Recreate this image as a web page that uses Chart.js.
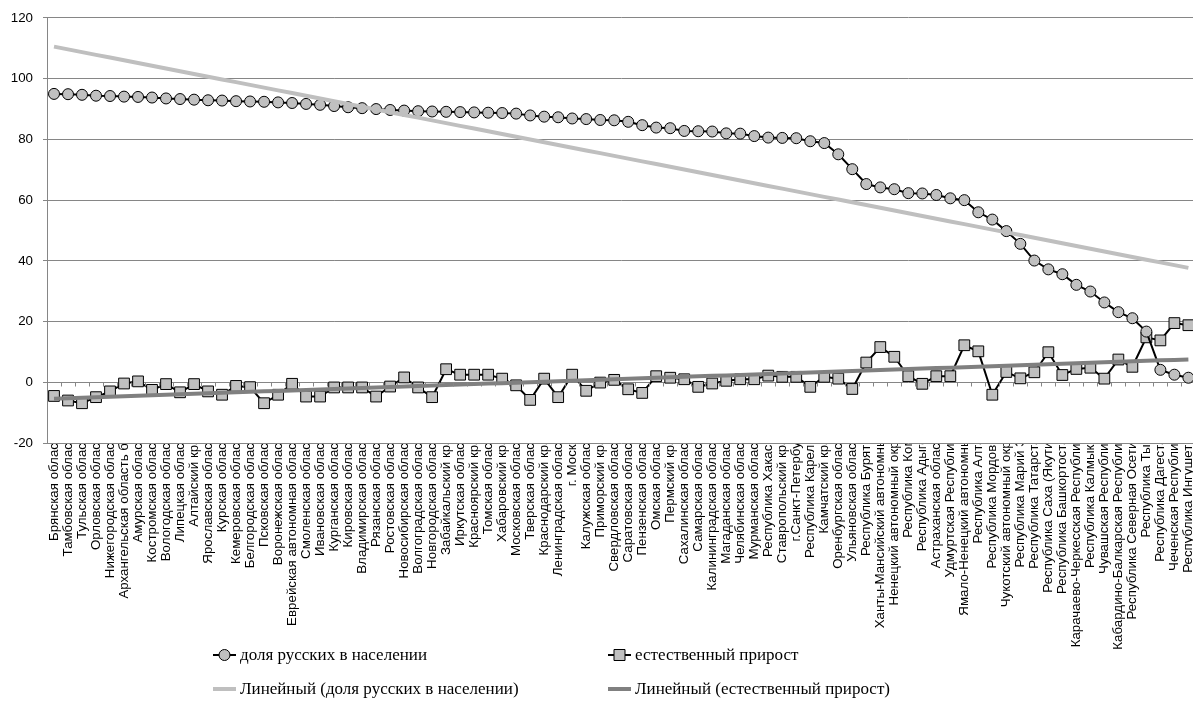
<!DOCTYPE html>
<html><head><meta charset="utf-8">
<script src="https://cdn.jsdelivr.net/npm/chart.js@4.4.1/dist/chart.umd.min.js"></script>
<style>html,body{margin:0;padding:0;background:#fff;overflow:hidden}#wrap{width:1193px;height:724px;position:relative;overflow:hidden}</style>
</head><body><div id="wrap"><canvas id="c" width="1204" height="724"></canvas></div>
<script>
const categories = [
"Брянская область","Тамбовская область","Тульская область","Орловская область","Нижегородская область",
"Архангельская область без","Амурская область","Костромская область","Вологодская область","Липецкая область",
"Алтайский край","Ярославская область","Курская область","Кемеровская область","Белгородская область",
"Псковская область","Воронежская область","Еврейская автономная область","Смоленская область","Ивановская область",
"Курганская область","Кировская область","Владимирская область","Рязанская область","Ростовская область",
"Новосибирская область","Волгоградская область","Новгородская область","Забайкальский край","Иркутская область",
"Красноярский край","Томская область","Хабаровский край","Московская область","Тверская область",
"Краснодарский край","Ленинградская область","г. Москва","Калужская область","Приморский край",
"Свердловская область","Саратовская область","Пензенская область","Омская область","Пермский край",
"Сахалинская область","Самарская область","Калининградская область","Магаданская область","Челябинская область",
"Мурманская область","Республика Хакасия","Ставропольский край","г.Санкт-Петербург","Республика Карелия",
"Камчатский край","Оренбургская область","Ульяновская область","Республика Бурятия","Ханты-Мансийский автономный",
"Ненецкий автономный округ","Республика Коми","Республика Адыгея","Астраханская область","Удмуртская Республика",
"Ямало-Ненецкий автономный","Республика Алтай","Республика Мордовия","Чукотский автономный округ","Республика Марий Эл",
"Республика Татарстан","Республика Саха (Якутия)","Республика Башкортостан","Карачаево-Черкесская Республика","Республика Калмыкия",
"Чувашская Республика","Кабардино-Балкарская Республика","Республика Северная Осетия-","Республика Тыва","Республика Дагестан",
"Чеченская Республика","Республика Ингушетия"
];
const shareRussians = [
95.0,94.9,94.7,94.4,94.3,94.1,94.0,93.8,93.5,93.3,
93.1,92.9,92.8,92.6,92.5,92.4,92.2,92.0,91.7,91.4,
91.0,90.6,90.3,90.0,89.7,89.5,89.3,89.2,89.1,89.0,
88.9,88.8,88.7,88.5,87.9,87.5,87.3,86.9,86.7,86.4,
86.3,85.8,84.7,83.9,83.7,82.8,82.7,82.6,82.0,81.9,
81.1,80.6,80.5,80.4,79.4,78.8,75.1,70.2,65.3,64.2,
63.6,62.3,62.2,61.7,60.6,60.0,56.0,53.6,49.8,45.6,
40.1,37.2,35.6,32.1,29.9,26.3,23.1,21.1,16.7,4.1,
2.5,1.5
];
const naturalGrowth = [
-4.5,-6.0,-6.9,-4.9,-3.0,-0.4,0.3,-2.5,-0.6,-3.3,
-0.6,-3.0,-4.1,-1.2,-1.6,-6.9,-4.1,-0.5,-4.7,-4.7,
-1.7,-1.7,-1.7,-4.7,-1.4,1.6,-1.7,-4.9,4.3,2.5,
2.5,2.5,1.2,-1.0,-5.8,1.2,-4.9,2.5,-2.8,-0.1,
0.8,-2.3,-3.5,2.0,1.5,1.0,-1.5,-0.4,0.5,1.0,
1.0,2.2,1.8,1.8,-1.5,1.8,1.2,-2.2,6.5,11.6,
8.4,2.0,-0.5,2.0,2.0,12.2,10.2,-4.1,3.4,1.3,
3.3,9.9,2.4,4.4,4.8,1.2,7.5,5.1,14.8,13.8,
19.5,18.8
];
const yTicks = [-20,0,20,40,60,80,100,120];
const seriesNames = ["доля русских в населении","естественный прирост"];
const trendNames = ["Линейный (доля русских в населении)","Линейный (естественный прирост)"];

function linearTrend(vals){
  const n = vals.length; let sx=0,sy=0,sxx=0,sxy=0;
  for(let i=0;i<n;i++){const x=i+1;sx+=x;sy+=vals[i];sxx+=x*x;sxy+=x*vals[i];}
  const b=(n*sxy-sx*sy)/(n*sxx-sx*sx); const a=(sy-b*sx)/n;
  return vals.map((v,i)=>a+b*(i+1));
}

const xFont = {family:"'Liberation Sans', Arial, sans-serif", size:13.33};
const yFont = {family:"'Liberation Sans', Arial, sans-serif", size:13.33};

const clipLabels = {
  id:'clipLabels',
  afterLayout(chart){
    const xs = chart.scales.x;
    if(!xs._clipPatched){
      const orig = xs.drawLabels.bind(xs);
      xs.drawLabels = function(area){
        const ctx = chart.ctx; ctx.save(); ctx.beginPath();
        ctx.rect(0, chart.chartArea.bottom + 1, chart.width, chart.height); ctx.clip();
        orig(area); ctx.restore();
      };
      xs._clipPatched = true;
    }
  }
};

const axisTicks = {
  id:'axisTicks',
  afterDatasetsDraw(chart){
    const ctx=chart.ctx, xs=chart.scales.x, ys=chart.scales.y;
    const y0=Math.round(ys.getPixelForValue(0))+0.5;
    const n=categories.length;
    const step=(xs.getPixelForValue(1)-xs.getPixelForValue(0));
    ctx.save(); ctx.strokeStyle='#868686'; ctx.lineWidth=1; ctx.beginPath();
    for(let k=0;k<=n;k++){const x=Math.round(xs.getPixelForValue(0)-step/2+k*step)+0.5; ctx.moveTo(x,y0); ctx.lineTo(x,y0+4);}
    ctx.stroke(); ctx.restore();
  }
};

const legendPlugin = {
  id:'customLegend',
  afterDraw(chart){
    const ctx=chart.ctx; const ds=chart.data.datasets;
    const items=[
      {d:ds[2], x:213, y:655, marker:'circle'},
      {d:ds[3], x:608, y:655, marker:'rect'},
      {d:ds[0], x:213, y:689, marker:null},
      {d:ds[1], x:608, y:689, marker:null}
    ];
    ctx.save();
    ctx.font="17px 'Liberation Serif', serif"; ctx.textBaseline='middle'; ctx.fillStyle='#000';
    items.forEach(it=>{
      ctx.strokeStyle=it.d.borderColor; ctx.lineWidth=it.d.borderWidth;
      ctx.beginPath(); ctx.moveTo(it.x,it.y); ctx.lineTo(it.x+23,it.y); ctx.stroke();
      if(it.marker){
        ctx.fillStyle=it.d.pointBackgroundColor; ctx.strokeStyle='#000'; ctx.lineWidth=1;
        ctx.beginPath();
        if(it.marker==='circle'){ctx.arc(it.x+11.5,it.y,5.5,0,Math.PI*2);} else {ctx.rect(it.x+11.5-5.5,it.y-5.5,11,11);}
        ctx.fill(); ctx.stroke();
      }
      ctx.fillStyle='#000';
      ctx.fillText(it.d.label,it.x+27,it.y+1);
    });
    ctx.restore();
  }
};

new Chart(document.getElementById('c'),{
  type:'line',
  data:{
    labels:categories,
    datasets:[
      {label:trendNames[0],data:linearTrend(shareRussians),borderColor:'#bfbfbf',borderWidth:4,pointRadius:0,order:0},
      {label:trendNames[1],data:linearTrend(naturalGrowth),borderColor:'#808080',borderWidth:4,pointRadius:0,order:1},
      {label:seriesNames[0],data:shareRussians,borderColor:'#000',borderWidth:2,pointStyle:'circle',pointRadius:5.5,
       pointBackgroundColor:'#c0c0c0',pointBorderColor:'#000',pointBorderWidth:1,order:2},
      {label:seriesNames[1],data:naturalGrowth,borderColor:'#000',borderWidth:2,pointStyle:'rect',pointRadius:7.6,
       pointBackgroundColor:'#c0c0c0',pointBorderColor:'#000',pointBorderWidth:1,order:3}
    ]
  },
  options:{
    responsive:false, devicePixelRatio:1, animation:false,
    layout:{padding:{top:17,right:0,left:0,bottom:0}},
    plugins:{legend:{display:false},tooltip:{enabled:false}},
    elements:{line:{tension:0}},
    scales:{
      x:{offset:true,grid:{display:false,drawTicks:false},border:{display:false},
         ticks:{autoSkip:false,maxRotation:90,minRotation:90,padding:-13,color:'#000',font:xFont},
         afterFit(s){s.height=281; s.paddingLeft=0; s.paddingRight=0;}},
      y:{min:-20,max:120,afterBuildTicks(s){s.ticks=yTicks.map(v=>({value:v}));},
         grid:{color:'#868686',lineWidth:1,tickLength:4},border:{color:'#868686'},
         ticks:{color:'#000',font:yFont,padding:10},
         afterFit(s){s.width=47;}}
    }
  },
  plugins:[clipLabels,axisTicks,legendPlugin]
});
</script></body></html>
